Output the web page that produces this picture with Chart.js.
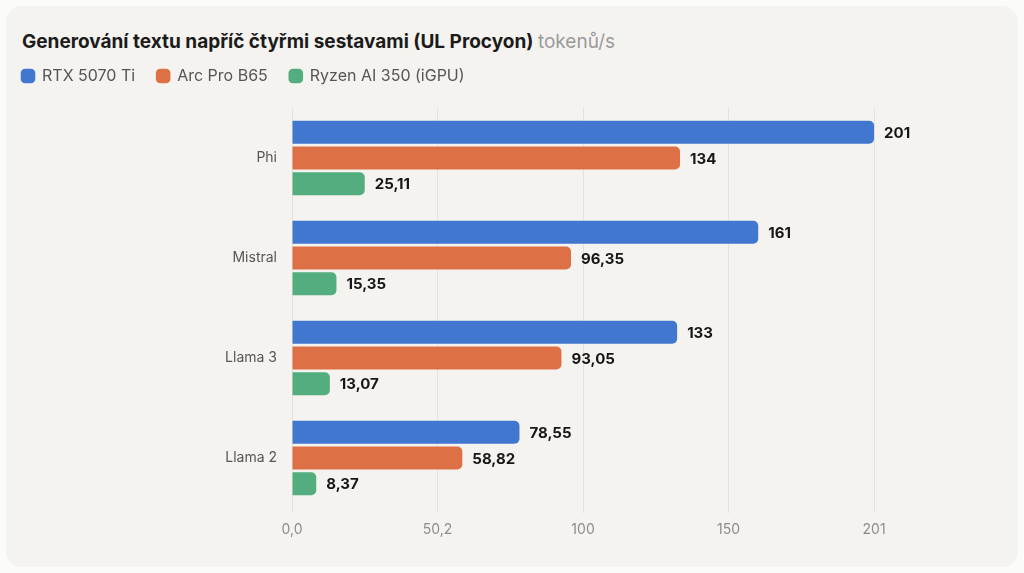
<!DOCTYPE html>
<html lang="cs">
<head>
<meta charset="utf-8">
<title>Generování textu napříč čtyřmi sestavami</title>
<script src="https://cdn.jsdelivr.net/npm/chart.js@4"></script>
<style>
    html, body { margin: 0; padding: 0; background: #fbfbfa; }
    body { width: 1024px; height: 573px; position: relative; overflow: hidden; font-family: Inter, "Noto Sans", sans-serif; }
    .card { position: absolute; left: 6px; top: 6px; width: 1012px; height: 561px; background: #f5f3ef; border-radius: 16px; }
    .title { position: absolute; left: 22px; top: 30px; margin: 0; font-size: 19px; font-weight: 700; color: #1b1b1b; white-space: nowrap; }
    .title .unit { font-weight: 400; color: #9a9a9a; }
    #chart-wrap { position: absolute; left: 0; top: 0; width: 1024px; height: 573px; }
</style>
</head>
<body>
<div class="card"></div>
<h1 class="title">Generování textu napříč čtyřmi sestavami (UL Procyon) <span class="unit">tokenů/s</span></h1>
<div id="chart-wrap"><canvas id="chart"></canvas></div>
<script>
// Data
const categories = ['Phi', 'Mistral', 'Llama 3', 'Llama 2'];
const rtx5070Ti = [201, 161, 133, 78.55];
const arcProB65 = [134, 96.35, 93.05, 58.82];
const ryzenAi350 = [25.11, 15.35, 13.07, 8.37];
const tickValues = [0, 50.25, 100.5, 150.75, 201];
const tickLabels = ['0,0', '50,2', '100', '150', '201'];

const colors = { rtx: '#4277cf', arc: '#de7046', ryzen: '#53ad7e' };

// Czech decimal comma
const fmt = v => String(v).replace('.', ',');

// Draws the bold value next to each bar end
const valueLabels = {
    id: 'valueLabels',
    afterDatasetsDraw(chart) {
        const { ctx } = chart;
        ctx.save();
        ctx.font = '700 15px Inter, "Noto Sans", sans-serif';
        ctx.fillStyle = '#161616';
        ctx.textBaseline = 'middle';
        ctx.textAlign = 'left';
        chart.data.datasets.forEach((ds, i) => {
            chart.getDatasetMeta(i).data.forEach((bar, j) => {
                ctx.fillText(fmt(ds.data[j]), bar.x + 10, bar.y + 1);
            });
        });
        ctx.restore();
    }
};

// Fix the legend block height so the plot starts where the reference does
const legendHeight = {
    id: 'legendHeight',
    beforeInit(chart) {
        const fit = chart.legend.fit;
        chart.legend.fit = function () {
            fit.call(this);
            this.height = 62;
        };
    }
};

new Chart(document.getElementById('chart'), {
    type: 'bar',
    data: {
        labels: categories,
        datasets: [
            { label: 'RTX 5070 Ti', data: rtx5070Ti, backgroundColor: colors.rtx },
            { label: 'Arc Pro B65', data: arcProB65, backgroundColor: colors.arc },
            { label: 'Ryzen AI 350 (iGPU)', data: ryzenAi350, backgroundColor: colors.ryzen }
        ]
    },
    options: {
        indexAxis: 'y',
        responsive: true,
        maintainAspectRatio: false,
        animation: false,
        categoryPercentage: 0.77,
        barPercentage: 0.895,
        borderRadius: 5,
        borderSkipped: 'start',
        layout: { padding: { top: 46, left: 0, right: 37, bottom: 0 } },
        plugins: {
            legend: {
                position: 'top',
                align: 'start',
                labels: {
                    usePointStyle: true,
                    pointStyle: 'rectRounded',
                    boxWidth: 12,
                    boxHeight: 12,
                    padding: 22,
                    color: '#555555',
                    font: { family: 'Inter', size: 16 }
                }
            },
            tooltip: { enabled: false }
        },
        scales: {
            x: {
                min: 0,
                max: 240,
                afterBuildTicks: scale => {
                    scale.ticks = tickValues.map(v => ({ value: v }));
                },
                afterFit: scale => { scale.height = 65; },
                ticks: {
                    color: '#8c8c8c',
                    padding: 8,
                    font: { family: 'Inter', size: 14 },
                    callback: (val, i) => tickLabels[i]
                },
                grid: { color: '#e4e2de', tickLength: 5, tickColor: '#e4e2de' },
                border: { display: false }
            },
            y: {
                afterFit: scale => { scale.width = 292; },
                ticks: {
                    color: '#555555',
                    padding: 15,
                    font: { family: 'Inter', size: 14 }
                },
                grid: { display: false, drawTicks: false },
                border: { display: false }
            }
        }
    },
    plugins: [valueLabels, legendHeight]
});
</script>
</body>
</html>
